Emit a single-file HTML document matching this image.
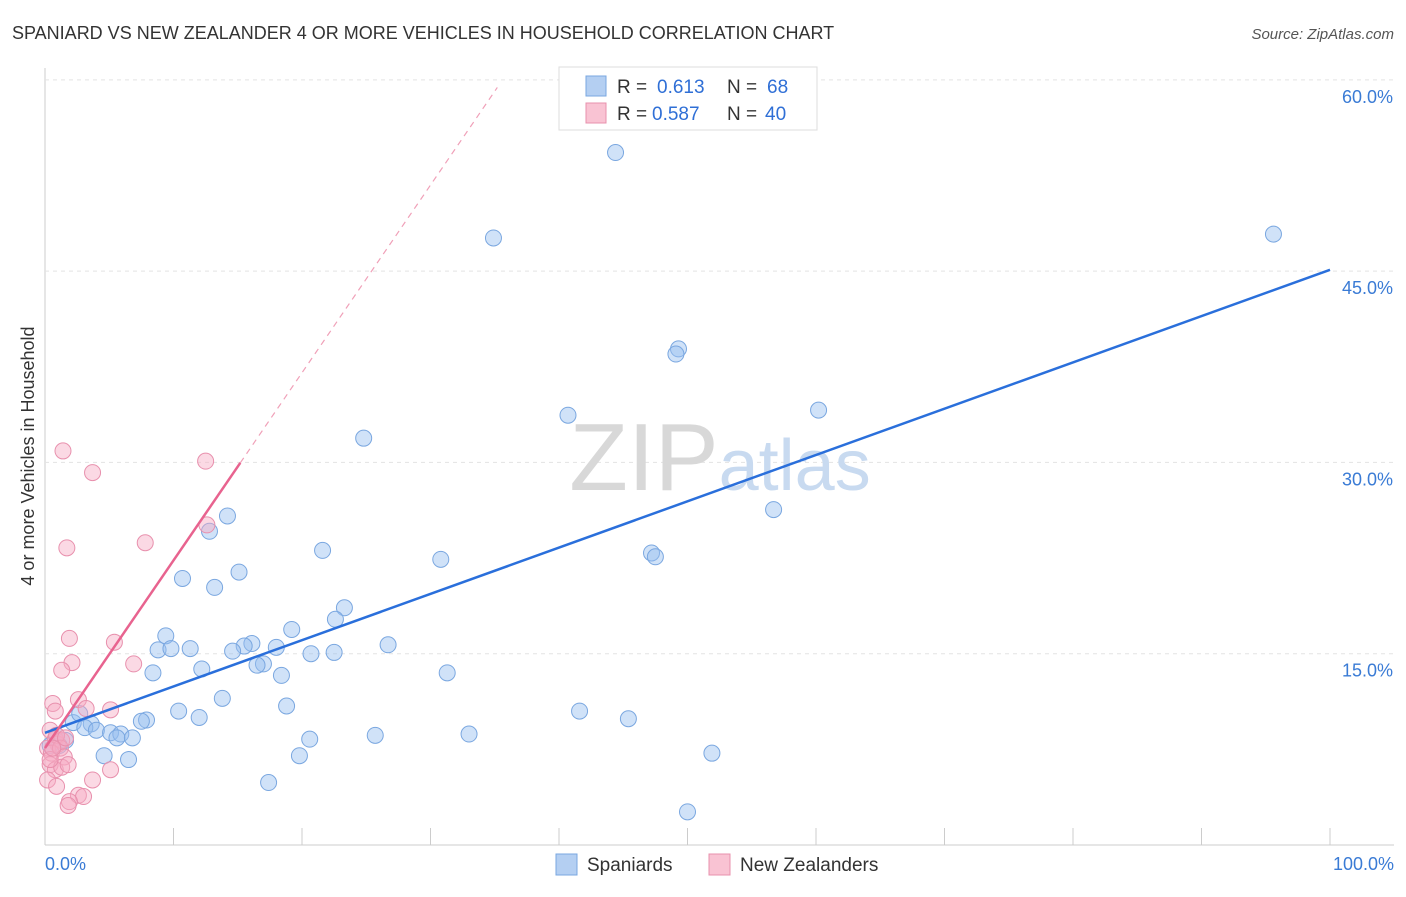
<!DOCTYPE html>
<html><head><meta charset="utf-8"><style>
body{margin:0;background:#fff;font-family:"Liberation Sans",sans-serif;}
svg text{font-family:"Liberation Sans",sans-serif;}
</style></head><body>
<svg width="1406" height="892">
<text x="12" y="39" font-size="18" fill="#333">SPANIARD VS NEW ZEALANDER 4 OR MORE VEHICLES IN HOUSEHOLD CORRELATION CHART</text>
<text x="1394" y="39" font-size="15" fill="#555" font-style="italic" text-anchor="end">Source: ZipAtlas.com</text>
<g id="grid"></g>
<text x="720" y="490" font-size="96" fill="#ddd" text-anchor="middle" font-family="Liberation Serif"><tspan fill="#d8d8d8">ZIP</tspan><tspan fill="#c8daf0" font-family="Liberation Sans" font-size="72">atlas</tspan></text>
<text transform="translate(34,456) rotate(-90)" font-size="18" fill="#333" text-anchor="middle">4 or more Vehicles in Household</text>
<g id="pts"></g>
<g id="lines"></g>
<g>
<rect x="559" y="67" width="258" height="63" fill="#fff" stroke="#ddd"/>
<rect x="586" y="76" width="20" height="20" fill="#b4cff2" stroke="#7aa7e0"/>
<rect x="586" y="103" width="20" height="20" fill="#f9c3d3" stroke="#e890ad"/>
<text x="617" y="93" font-size="19" fill="#333">R =</text>
<text x="657" y="93" font-size="19" fill="#2f6fd6">0.613</text>
<text x="727" y="93" font-size="19" fill="#333">N =</text>
<text x="767" y="93" font-size="19" fill="#2f6fd6">68</text>
<text x="617" y="120" font-size="19" fill="#333">R =</text>
<text x="652" y="120" font-size="19" fill="#2f6fd6">0.587</text>
<text x="727" y="120" font-size="19" fill="#333">N =</text>
<text x="765" y="120" font-size="19" fill="#2f6fd6">40</text>
</g>
<g>
<rect x="556" y="854" width="21" height="21" fill="#b4cff2" stroke="#7aa7e0"/>
<text x="587" y="871" font-size="19" fill="#333">Spaniards</text>
<rect x="709" y="854" width="21" height="21" fill="#f9c3d3" stroke="#e890ad"/>
<text x="740" y="871" font-size="19" fill="#333">New Zealanders</text>
</g>
<text x="45" y="870" font-size="18" fill="#3a7bd5">0.0%</text>
<text x="1394" y="870" font-size="18" fill="#3a7bd5" text-anchor="end">100.0%</text>
</svg>
<script>
const yTicks=[15,30,45,60];
const blueX=[44.4,34.9,95.6,49.3,49.1,60.2,40.7,24.8,56.7,14.2,12.8,21.6,30.8,47.2,47.5,15.1,10.7,13.2,23.3,22.6,19.2,9.4,8.8,9.8,11.3,16.1,15.5,14.6,18.0,20.7,22.5,26.7,17.0,16.5,12.2,8.4,18.4,31.3,13.8,18.8,10.4,12.0,41.6,45.4,7.9,7.5,2.2,2.7,3.6,3.1,4.0,5.1,5.9,5.6,6.8,25.7,33.0,20.6,1.6,1.1,4.6,6.5,19.8,51.9,17.4,50.0,0.9,0.4];
const blueY=[54.3,47.6,47.9,38.9,38.5,34.1,33.7,31.9,26.3,25.8,24.6,23.1,22.4,22.9,22.6,21.4,20.9,20.2,18.6,17.7,16.9,16.4,15.3,15.4,15.4,15.8,15.6,15.2,15.5,15.0,15.1,15.7,14.2,14.1,13.8,13.5,13.3,13.5,11.5,10.9,10.5,10.0,10.5,9.9,9.8,9.7,9.6,10.3,9.5,9.2,9.0,8.8,8.7,8.4,8.4,8.6,8.7,8.3,8.2,7.8,7.0,6.7,7.0,7.2,4.9,2.6,8.6,7.8];
const pinkX=[1.4,3.7,12.5,1.7,7.8,12.6,1.9,5.4,2.1,1.3,6.9,0.6,2.6,0.8,3.2,5.1,0.4,0.8,1.0,1.3,0.2,0.5,0.9,1.2,1.5,1.6,0.4,0.8,1.3,1.8,0.2,0.9,3.7,5.1,2.6,3.0,1.9,1.8,0.4,0.6];
const pinkY=[30.9,29.2,30.1,23.3,23.7,25.1,16.2,15.9,14.3,13.7,14.2,11.1,11.4,10.5,10.7,10.6,9.0,8.3,7.9,8.2,7.6,7.2,8.6,7.6,6.9,8.4,6.3,5.9,6.1,6.3,5.1,4.6,5.1,5.9,3.9,3.8,3.4,3.1,6.7,7.6];
const blueFit=[8.8,45.1], pinkFit=[7.6,59.4], pinkSolidEnd=15.2, pinkDashEnd=35.2;
const X=v=>45+v*12.85, Y=v=>845-v*12.753;
const NS='http://www.w3.org/2000/svg';
function mk(t,a,p){const e=document.createElementNS(NS,t);for(const k in a)e.setAttribute(k,a[k]);p.appendChild(e);return e;}
const g=document.getElementById('grid');
const ax=mk('line',{x1:45,y1:68,x2:45,y2:845,stroke:'#ccc'},g);


const bx=mk('line',{x1:45,y1:845,x2:1394,y2:845,stroke:'#ccc'},g);


for(let i=0;i<=10;i++){const t=mk('line',{x1:X(i*10),y1:828,x2:X(i*10),y2:845,stroke:'#ccc'},g);

}
yTicks.forEach(v=>{const l=mk('line',{x1:45,y1:Y(v),x2:1394,y2:Y(v),stroke:'#e3e3e3','stroke-dasharray':'4,4'},g);


const t=mk('text',{x:1393,y:Y(v)+23,'font-size':18,fill:'#3a7bd5','text-anchor':'end'},g);t.textContent=v.toFixed(1)+'%';

});
const p=document.getElementById('pts');
blueX.forEach((v,i)=>{const c=mk('circle',{cx:X(v),cy:Y(blueY[i]),r:8,fill:'rgba(150,190,240,0.45)',stroke:'#7aa7e0','stroke-width':1},p);

});
pinkX.forEach((v,i)=>{const c=mk('circle',{cx:X(v),cy:Y(pinkY[i]),r:8,fill:'rgba(247,170,195,0.45)',stroke:'#e890ad','stroke-width':1},p);

});
const L=document.getElementById('lines');
const ps=(pinkFit[1]-pinkFit[0])/pinkDashEnd;
const bl=mk('line',{x1:X(0),y1:Y(blueFit[0]),x2:X(100),y2:Y(blueFit[1]),stroke:'#2a6fdb','stroke-width':2.5},L);


const pd=mk('line',{x1:X(pinkSolidEnd),y1:Y(pinkFit[0]+ps*pinkSolidEnd),x2:X(pinkDashEnd),y2:Y(pinkFit[1]),stroke:'#f0a0b8','stroke-width':1.2,'stroke-dasharray':'6,5'},L);


const pl=mk('line',{x1:X(0),y1:Y(pinkFit[0]),x2:X(pinkSolidEnd),y2:Y(pinkFit[0]+ps*pinkSolidEnd),stroke:'#e8638f','stroke-width':2.5},L);


</script>
</body></html>
